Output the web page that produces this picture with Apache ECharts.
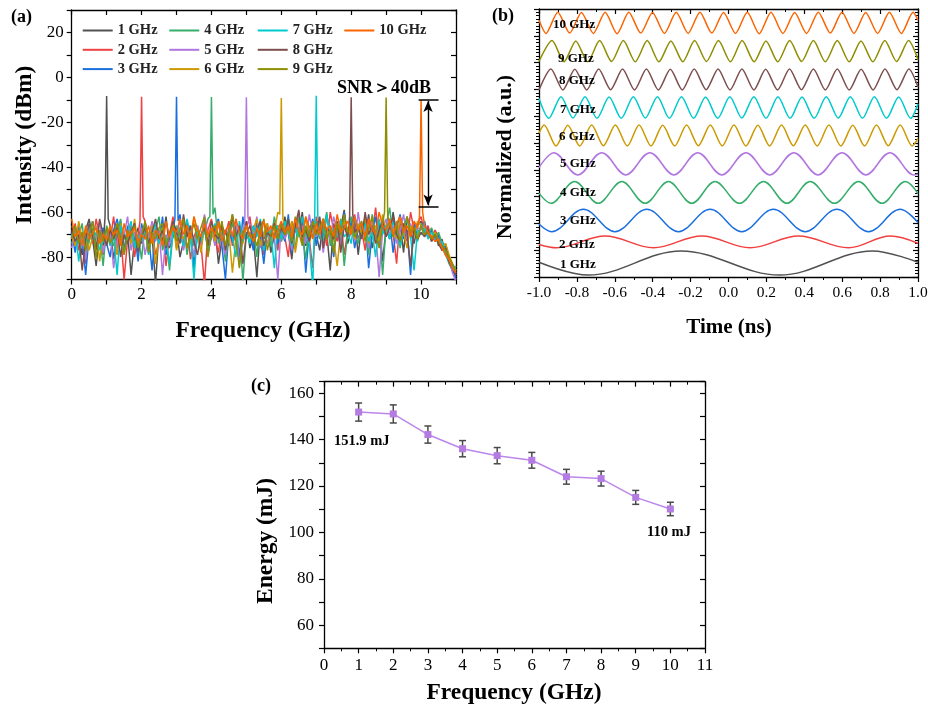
<!DOCTYPE html>
<html><head><meta charset="utf-8">
<script src="https://cdn.jsdelivr.net/npm/echarts@6/dist/echarts.min.js"></script>
<style>html,body{margin:0;padding:0;background:#fff}#c{width:928px;height:706px}</style>
</head><body><div id="c"></div><script>
const FONT = '"Liberation Serif","Times New Roman",serif';

// ---------- Panel (a): spectra ----------
const seriesNames = ['1 GHz','2 GHz','3 GHz','4 GHz','5 GHz','6 GHz','7 GHz','8 GHz','9 GHz','10 GHz'];
const colors = ['#515151','#F14040','#1A6FDF','#37AD6B','#B177DE','#CC9900','#00CBCC','#7D4E4E','#8E8E00','#FB6501'];
const freqGrid = [0,0.1,0.2,0.3,0.4,0.5,0.6,0.7,0.8,0.9,1.0,1.1,1.2,1.3,1.4,1.5,1.6,1.7,1.8,1.9,2.0,2.1,2.2,2.3,2.4,2.5,2.6,2.7,2.8,2.9,3.0,3.1,3.2,3.3,3.4,3.5,3.6,3.7,3.8,3.9,4.0,4.1,4.2,4.3,4.4,4.5,4.6,4.7,4.8,4.9,5.0,5.1,5.2,5.3,5.4,5.5,5.6,5.7,5.8,5.9,6.0,6.1,6.2,6.3,6.4,6.5,6.6,6.7,6.8,6.9,7.0,7.1,7.2,7.3,7.4,7.5,7.6,7.7,7.8,7.9,8.0,8.1,8.2,8.3,8.4,8.5,8.6,8.7,8.8,8.9,9.0,9.1,9.2,9.3,9.4,9.5,9.6,9.7,9.8,9.9,10.0,10.1,10.2,10.3,10.4,10.5,10.6,10.7,10.8,10.9,11.0];
const noise1 = [-66,-74,-70,-79,-68,-63,-72,-84,-69,-75, -70,-66,-81,-71,-64,-77,-69,-88,-72,-67, -74,-65,-78,-70,-92,-68,-73,-62,-76,-71, -67,-80,-73,-65,-71,-85,-69,-74,-63,-78, -70,-66,-83,-72,-68,-75,-61,-73,-79,-69, -64,-76,-71,-89,-67,-72,-65,-78,-70,-66, -73,-62,-69,-81,-66,-71,-60,-75,-68,-64, -70,-77,-63,-69,-86,-65,-72,-67,-59,-74, -68,-63,-79,-66,-71,-61,-76,-69,-64,-82, -67,-72,-60,-70,-65,-78,-62,-69,-74,-66, -64,-70,-67,-73,-69,-75,-72,-79,-82,-86, -89];
const noise2 = [-72,-65,-77,-70,-83,-68,-74,-63,-71,-79, -67,-73,-62,-76,-69,-90,-72,-66,-80,-70, -75,-64,-71,-68,-79,-73,-66,-84,-70,-62, -76,-69,-73,-65,-81,-71,-67,-74,-92,-68, -63,-72,-78,-66,-70,-64,-75,-69,-82,-71, -67,-62,-74,-70,-66,-79,-68,-72,-63,-77, -65,-71,-80,-64,-69,-61,-74,-67,-72,-85, -62,-70,-66,-75,-60,-68,-73,-64,-79,-69, -66,-61,-72,-68,-77,-63,-70,-58,-74,-67, -71,-64,-69,-83,-62,-67,-73,-60,-68,-65, -62,-69,-66,-72,-68,-71,-76,-74,-80,-84, -88];
const noise3 = [-69,-78,-66,-72,-88,-70,-64,-75,-71,-67, -74,-80,-68,-63,-71,-77,-66,-73,-69,-82, -65,-72,-70,-86,-67,-74,-62,-79,-71,-68, -73,-61,-76,-70,-66,-84,-69,-72,-64,-78, -71,-67,-63,-75,-90,-68,-73,-66,-80,-62, -72,-69,-77,-64,-71,-83,-67,-70,-65,-74, -68,-73,-61,-78,-66,-70,-64,-87,-69,-63, -75,-66,-71,-62,-68,-80,-65,-73,-60,-70, -64,-76,-67,-71,-63,-85,-69,-62,-74,-66, -70,-63,-78,-67,-61,-72,-68,-88,-65,-69, -67,-64,-71,-68,-73,-70,-77,-75,-81,-85, -90];
const noise4 = [-74,-68,-71,-65,-80,-73,-67,-76,-70,-84, -66,-71,-75,-69,-63,-78,-72,-67,-74,-70, -81,-65,-70,-73,-68,-62,-77,-71,-86,-69, -72,-67,-64,-79,-70,-75,-66,-73,-69,-63, -70,-58,-74,-68,-82,-71,-65,-72,-67,-91, -69,-73,-66,-80,-64,-71,-68,-75,-62,-70, -73,-67,-63,-70,-76,-62,-69,-81,-66,-71, -64,-72,-68,-60,-75,-67,-71,-63,-84,-69, -62,-70,-74,-65,-68,-79,-61,-72,-67,-88, -66,-58,-71,-64,-76,-68,-63,-70,-67,-73, -65,-68,-70,-67,-72,-69,-74,-78,-83,-86, -84];
const noise5 = [-76,-67,-73,-69,-81,-66,-72,-70,-64,-78, -71,-68,-85,-73,-66,-70,-62,-77,-69,-74, -67,-79,-71,-64,-73,-68,-88,-70,-75,-66, -72,-63,-77,-69,-71,-80,-66,-74,-61,-70, -68,-75,-65,-72,-79,-67,-70,-63,-84,-71, -73,-66,-70,-62,-76,-69,-74,-67,-71,-90, -65,-72,-68,-77,-63,-70,-66,-74,-61,-69, -71,-64,-78,-67,-72,-62,-69,-75,-65,-70, -67,-73,-60,-71,-66,-76,-64,-69,-89,-68, -63,-70,-66,-74,-68,-61,-72,-65,-70,-67, -68,-66,-71,-69,-73,-72,-75,-79,-81,-87, -91];
const noise6 = [-70,-75,-64,-72,-68,-77,-71,-66,-82,-69, -73,-67,-71,-79,-65,-72,-69,-74,-63,-76, -70,-68,-75,-66,-83,-71,-67,-73,-70,-64, -77,-69,-72,-67,-74,-62,-70,-78,-66,-71, -68,-73,-65,-70,-76,-69,-87,-72,-67,-74, -66,-71,-68,-63,-75,-70,-65,-73,-69,-60, -72,-66,-70,-64,-78,-68,-71,-62,-74,-67, -69,-63,-75,-70,-66,-72,-84,-68,-64,-71, -67,-72,-65,-70,-62,-74,-68,-66,-73,-61, -70,-65,-68,-72,-63,-69,-76,-66,-71,-64, -66,-70,-68,-71,-69,-73,-76,-74,-79,-83, -86];
const noise7 = [-71,-67,-82,-70,-74,-65,-72,-69,-77,-73, -68,-75,-70,-88,-66,-72,-69,-64,-76,-71, -73,-67,-79,-70,-65,-74,-68,-72,-83,-69, -66,-71,-75,-63,-70,-90,-68,-73,-67,-77, -70,-65,-72,-69,-76,-67,-71,-80,-64,-73, -69,-74,-66,-71,-63,-77,-70,-68,-85,-66, -72,-64,-69,-75,-67,-71,-62,-70,-74,-93, -68,-66,-73,-61,-70,-76,-67,-64,-71,-69, -74,-62,-68,-71,-65,-73,-69,-80,-63,-70, -66,-72,-64,-69,-75,-67,-62,-71,-86,-68, -70,-67,-72,-69,-71,-74,-73,-78,-82,-84, -87];
const noise8 = [-68,-73,-70,-86,-72,-65,-71,-77,-63,-70, -75,-68,-72,-66,-80,-70,-74,-69,-65,-78, -71,-67,-74,-69,-63,-72,-68,-76,-70,-64, -69,-74,-61,-71,-66,-73,-79,-70,-67,-75, -64,-70,-72,-65,-77,-68,-62,-71,-66,-83, -70,-66,-73,-68,-64,-75,-69,-71,-65,-72, -67,-70,-63,-74,-66,-59,-71,-68,-73,-65, -70,-62,-76,-67,-69,-72,-64,-78,-66,-71, -63,-69,-67,-72,-60,-70,-66,-74,-68,-64, -71,-67,-62,-70,-73,-65,-69,-84,-67,-72, -69,-71,-68,-73,-70,-74,-77,-76,-82,-85, -88];
const noise9 = [-72,-66,-74,-69,-77,-70,-64,-81,-68,-73, -67,-74,-70,-65,-72,-79,-68,-71,-66,-76, -70,-64,-78,-69,-72,-67,-65,-75,-70,-66, -73,-68,-63,-76,-70,-65,-72,-67,-62,-80, -69,-66,-71,-64,-75,-68,-61,-72,-85,-69, -66,-71,-70,-75,-68,-63,-77,-70,-66,-72, -65,-70,-67,-73,-62,-69,-75,-66,-71,-64, -70,-67,-63,-72,-68,-78,-65,-70,-61,-69, -66,-71,-68,-64,-73,-67,-62,-70,-76,-65, -69,-64,-71,-66,-73,-68,-62,-70,-67,-72, -66,-70,-69,-72,-70,-73,-75,-77,-80,-83, -86];
const noise10 = [-63,-71,-68,-75,-66,-72,-69,-67,-74,-70, -72,-66,-70,-68,-75,-65,-71,-69,-67,-73, -70,-72,-66,-74,-68,-70,-75,-64,-71,-67, -69,-63,-70,-66,-72,-62,-68,-71,-65,-70, -67,-70,-64,-73,-68,-66,-71,-63,-69,-72, -66,-70,-73,-67,-71,-64,-69,-66,-72,-68, -64,-69,-66,-71,-63,-68,-70,-62,-67,-72, -65,-70,-63,-68,-66,-71,-61,-69,-67,-64, -70,-62,-68,-65,-71,-63,-67,-70,-60,-66, -68,-63,-70,-65,-62,-69,-66,-71,-64,-67, -60,-66,-69,-71,-73,-72,-76,-79,-81,-85, -87];
const noiseAll = [noise1,noise2,noise3,noise4,noise5,noise6,noise7,noise8,noise9,noise10];
const peakFreq = [1,2,3,4,5,6,7,8,9,10];
const peakLevel = [-8.3,-8.6,-8.6,-8.7,-8.9,-9.2,-8.2,-8.9,-9.0,-10.2];
const shoulderL = [-62,-64,-63,-62,-64,-61,-63,-62,-60,-62];
const shoulderR = [-63,-62,-64,-61,-62,-63,-62,-61,-62,-60];
const snrTop = -10, snrBottom = -57.5, snrX = [9.93, 10.5], arrowX = 10.2;

// ---------- Panel (b): waveforms (extrema) ----------
const w10 = [[-1,9.58],[-0.963,9.09],[-0.901,9.88],[-0.838,9.10],[-0.776,9.87],[-0.713,9.09],[-0.651,9.88],[-0.588,9.08],[-0.526,9.88],[-0.463,9.10],[-0.401,9.87],[-0.338,9.09],[-0.276,9.88],[-0.213,9.09],[-0.151,9.88],[-0.088,9.10],[-0.026,9.87],[0.037,9.09],[0.099,9.88],[0.162,9.08],[0.224,9.88],[0.287,9.09],[0.349,9.87],[0.412,9.09],[0.474,9.88],[0.537,9.10],[0.599,9.88],[0.662,9.09],[0.724,9.87],[0.787,9.09],[0.849,9.88],[0.912,9.09],[0.974,9.88],[1,9.58]];
const w9 = [[-1,8.04],[-0.931,8.82],[-0.868,8.03],[-0.806,8.81],[-0.743,8.03],[-0.680,8.82],[-0.617,8.04],[-0.555,8.82],[-0.492,8.03],[-0.429,8.82],[-0.367,8.03],[-0.304,8.81],[-0.241,8.03],[-0.179,8.82],[-0.116,8.04],[-0.053,8.82],[0.010,8.03],[0.072,8.82],[0.135,8.03],[0.198,8.81],[0.260,8.03],[0.323,8.82],[0.386,8.04],[0.448,8.82],[0.511,8.03],[0.574,8.82],[0.637,8.03],[0.699,8.81],[0.762,8.03],[0.825,8.82],[0.887,8.04],[0.950,8.82],[1,8.11]];
const w8 = [[-1,6.98],[-0.937,7.76],[-0.874,6.98],[-0.811,7.75],[-0.748,6.98],[-0.685,7.76],[-0.622,6.99],[-0.559,7.76],[-0.496,6.98],[-0.433,7.76],[-0.370,6.98],[-0.307,7.75],[-0.244,6.98],[-0.181,7.76],[-0.118,6.99],[-0.055,7.76],[0.008,6.98],[0.071,7.76],[0.134,6.98],[0.196,7.75],[0.259,6.98],[0.322,7.76],[0.385,6.99],[0.448,7.76],[0.511,6.98],[0.574,7.76],[0.637,6.98],[0.700,7.75],[0.763,6.98],[0.826,7.76],[0.889,6.99],[0.952,7.76],[1,7.09]];
const w7 = [[-1,6.66],[-0.948,5.92],[-0.884,6.73],[-0.821,5.93],[-0.757,6.73],[-0.694,5.92],[-0.630,6.72],[-0.566,5.92],[-0.502,6.73],[-0.439,5.93],[-0.375,6.73],[-0.312,5.92],[-0.248,6.73],[-0.184,5.92],[-0.121,6.72],[-0.057,5.92],[0.007,6.73],[0.070,5.93],[0.134,6.73],[0.198,5.92],[0.261,6.73],[0.325,5.92],[0.388,6.72],[0.452,5.92],[0.516,6.73],[0.579,5.93],[0.643,6.73],[0.707,5.92],[0.770,6.73],[0.834,5.92],[0.898,6.72],[0.961,5.92],[1,6.46]];
const w6 = [[-1,5.37],[-0.973,5.67],[-0.910,4.89],[-0.848,5.66],[-0.785,4.89],[-0.722,5.67],[-0.660,4.90],[-0.597,5.67],[-0.534,4.89],[-0.472,5.67],[-0.409,4.89],[-0.347,5.66],[-0.284,4.89],[-0.221,5.67],[-0.159,4.90],[-0.096,5.67],[-0.033,4.89],[0.029,5.67],[0.092,4.89],[0.155,5.66],[0.217,4.89],[0.280,5.67],[0.342,4.90],[0.405,5.67],[0.468,4.89],[0.530,5.67],[0.593,4.89],[0.656,5.66],[0.718,4.89],[0.781,5.67],[0.843,4.90],[0.906,5.67],[0.969,4.89],[1,5.16]];
const w5 = [[-1,4.08],[-0.922,4.64],[-0.795,3.81],[-0.669,4.64],[-0.542,3.81],[-0.415,4.64],[-0.288,3.81],[-0.162,4.64],[-0.035,3.81],[0.092,4.64],[0.218,3.81],[0.345,4.64],[0.472,3.81],[0.599,4.64],[0.725,3.81],[0.852,4.64],[0.979,3.81],[1,3.83]];
const w4 = [[-1,3.13],[-0.937,2.75],[-0.812,3.56],[-0.688,2.75],[-0.563,3.56],[-0.440,2.75],[-0.317,3.56],[-0.194,2.75],[-0.071,3.56],[0.058,2.75],[0.185,3.56],[0.308,2.75],[0.431,3.56],[0.559,2.75],[0.686,3.56],[0.810,2.75],[0.933,3.56],[1,3.11]];
const w3 = [[-1,1.98],[-0.933,1.69],[-0.766,2.53],[-0.599,1.69],[-0.431,2.53],[-0.264,1.69],[-0.097,2.53],[0.070,1.69],[0.237,2.53],[0.405,1.69],[0.572,2.53],[0.739,1.69],[0.907,2.53],[1,2.03]];
const w2 = [[-1,1.215],[-0.907,1.09],[-0.651,1.53],[-0.396,1.09],[-0.141,1.53],[0.114,1.09],[0.369,1.53],[0.633,1.09],[0.854,1.53],[1,1.26]];
const w1 = [[-1,0.55],[-0.74,0.07],[-0.25,0.97],[0.27,0.07],[0.76,0.97],[1,0.55]];
const waves = [w1,w2,w3,w4,w5,w6,w7,w8,w9,w10];
const waveSmooth = [0.36,0.36,0.36,0.36,0.36,0.28,0.28,0.25,0.25,0.25];

// ---------- Panel (c): energy ----------
const freqC = [1,2,3,4,5,6,7,8,9,10];
const energy = [151.9,151.1,142.2,136.1,133.1,131.1,124.0,123.2,115.1,110.1];
const energyErr = [3.9,3.9,3.7,3.5,3.5,3.4,3.2,3.2,3.0,2.9];

// ---------- build ----------
function buildSpectrum(k){
  const f = peakFreq[k], pts = [];
  for (let i = 0; i < freqGrid.length; i++){
    const x = freqGrid[i];
    if (Math.abs(x - f) < 1e-9){
      pts.push([f - 0.045, shoulderL[k]]);
      pts.push([f, peakLevel[k]]);
      pts.push([f + 0.045, shoulderR[k]]);
    } else pts.push([x, noiseAll[k][i]]);
  }
  return pts;
}
const AX = {color:'#000', width:1.3};
function xAx(grid, pos, min, max, interval, labelOpt, minorSplit){
  const inside = pos === 'top';
  return {type:'value', gridIndex:grid, position:pos, min:min, max:max, interval:interval,
    axisLine:{show:true, onZero:false, lineStyle:AX},
    axisTick:{show:true, inside:inside, length:5, lineStyle:{color:'#000', width:1.2}},
    minorTick:{show:!!minorSplit, splitNumber:minorSplit||2, length:3, lineStyle:{color:'#000', width:1}},
    splitLine:{show:false}, minorSplitLine:{show:false},
    axisLabel: inside ? {show:false} : Object.assign({show:true, color:'#000', fontFamily:FONT, fontSize:17}, labelOpt)};
}
function yAx(grid, pos, min, max, interval, labelOpt, minorSplit){
  const inside = pos === 'right';
  return {type:'value', gridIndex:grid, position:pos, min:min, max:max, interval:interval,
    axisLine:{show:true, onZero:false, lineStyle:AX},
    axisTick:{show:true, inside:inside, length:5, lineStyle:{color:'#000', width:1.2}},
    minorTick:{show:!!minorSplit, splitNumber:minorSplit||2, length:3, lineStyle:{color:'#000', width:1}},
    splitLine:{show:false}, minorSplitLine:{show:false},
    axisLabel: inside ? {show:false} : Object.assign({show:true, color:'#000', fontFamily:FONT, fontSize:17}, labelOpt)};
}

const series = [];
for (let k = 0; k < 10; k++){
  series.push({name:seriesNames[k], type:'line', xAxisIndex:0, yAxisIndex:0, data:buildSpectrum(k),
    symbol:'none', color:colors[k], lineStyle:{width:1.5, color:colors[k]}, clip:true});
}
series.push({type:'line', xAxisIndex:0, yAxisIndex:0, data:[[arrowX, snrTop]], symbol:'none', lineStyle:{opacity:0},
  markLine:{silent:true, symbol:['none','none'], label:{show:false}, lineStyle:{color:'#000', width:1.5, type:'solid'},
    data:[[{coord:[snrX[0], snrTop]},{coord:[snrX[1], snrTop]}],[{coord:[snrX[0], snrBottom]},{coord:[snrX[1], snrBottom]}]]}, z:5});
series.push({type:'line', xAxisIndex:0, yAxisIndex:0, data:[[arrowX, snrTop]], symbol:'none', lineStyle:{opacity:0},
  markLine:{silent:true, symbol:['arrow','arrow'], symbolSize:[7,11], label:{show:false}, lineStyle:{color:'#000', width:1.4, type:'solid'},
    data:[[{coord:[arrowX, snrTop - 0.5]},{coord:[arrowX, snrBottom + 0.5]}]]}, z:5});
for (let k = 0; k < 10; k++){
  series.push({type:'line', xAxisIndex:2, yAxisIndex:2, data:waves[k], symbol:'none', smooth:waveSmooth[k],
    lineStyle:{width:1.5, color:colors[k]}, color:colors[k]});
}
series.push({type:'custom', xAxisIndex:4, yAxisIndex:4, z:2,
  data: freqC.map((f,i)=>[f, energy[i], energyErr[i]]),
  encode:{x:0, y:1},
  renderItem:function(params, api){
    const x = api.value(0), y = api.value(1), e = api.value(2);
    const t = api.coord([x, y + e]), b = api.coord([x, y - e]);
    const w = 3.5, st = {stroke:'#4a4a4a', lineWidth:1.5};
    return {type:'group', children:[
      {type:'line', shape:{x1:t[0], y1:t[1], x2:b[0], y2:b[1]}, style:st},
      {type:'line', shape:{x1:t[0]-w, y1:t[1], x2:t[0]+w, y2:t[1]}, style:st},
      {type:'line', shape:{x1:b[0]-w, y1:b[1], x2:b[0]+w, y2:b[1]}, style:st}]};
  }});
series.push({type:'line', xAxisIndex:4, yAxisIndex:4, z:3, data: freqC.map((f,i)=>[f, energy[i]]),
  symbol:'rect', symbolSize:7, showSymbol:true, color:'#B47BE2',
  itemStyle:{color:'#B47BE2'}, lineStyle:{color:'#BC86EA', width:1.5}});

const legendCols = [['1 GHz','2 GHz','3 GHz'],['4 GHz','5 GHz','6 GHz'],['7 GHz','8 GHz','9 GHz'],['10 GHz']];
const legendLeft = [81.7, 168.3, 256.7, 343.3];
const legends = legendCols.map((names, i) => ({data:names, left:legendLeft[i], top:23, orient:'vertical',
  padding:0, itemWidth:30, itemHeight:14, itemGap:4.3, selectedMode:false,
  lineStyle:{width:2}, itemStyle:{opacity:0, borderWidth:0},
  textStyle:{fontFamily:FONT, fontWeight:'bold', fontSize:14.5, color:'#222', lineHeight:14}}));

function txt(x, y, s, size, opts){
  opts = opts || {};
  return {type:'text', x:x, y:y, rotation:opts.rot||0, z:100, silent:true,
    style:{text:s, font:(opts.normal?'':'bold ')+size+'px '+FONT, fill:opts.fill||'#000',
      textAlign:opts.align||'center', textVerticalAlign:'middle', align:opts.align||'center', verticalAlign:'middle'}};
}
const waveLabelX = [560,559,560,560,560,559,560,559,558,553];
const waveLabelY = [265,245,221,192.7,163.3,136.7,109.7,80.3,59,25];
const graphics = [
  txt(21.5, 17, '(a)', 18), txt(503, 16, '(b)', 18), txt(261, 386, '(c)', 18),
  txt(263, 331, 'Frequency (GHz)', 23.5),
  txt(25, 145, 'Intensity (dBm)', 23.5, {rot:Math.PI/2}),
  txt(729, 328, 'Time (ns)', 21),
  txt(505, 157, 'Normalized (a.u.)', 22, {rot:Math.PI/2}),
  txt(514, 693, 'Frequency (GHz)', 23.5),
  txt(266, 541, 'Energy (mJ)', 23.5, {rot:Math.PI/2}),
  txt(384, 88, 'SNR＞40dB', 18),
  txt(361.7, 441.7, '151.9 mJ', 14.5),
  txt(669, 532, '110 mJ', 14.5)
];
for (let k = 0; k < 10; k++) graphics.push(txt(waveLabelX[k], waveLabelY[k], seriesNames[k], 13, {align:'left'}));

const chart = echarts.init(document.getElementById('c'), null, {renderer:'canvas'});
chart.setOption({
  animation:false, backgroundColor:'#fff',
  grid:[
    {left:71.7, right:472, top:10, bottom:426.5, containLabel:false, outerBoundsMode:'none'},
    {left:539, right:10, top:9, bottom:429, containLabel:false, outerBoundsMode:'none'},
    {left:324, right:223, top:381.7, bottom:57.7, containLabel:false, outerBoundsMode:'none'}
  ],
  xAxis:[
    xAx(0,'bottom',0,11,1,{margin:7, formatter:v => (v % 2 === 0 && v <= 10) ? String(v) : ''}),
    xAx(0,'top',0,11,1,{}),
    xAx(1,'bottom',-1,1,0.2,{margin:8, fontSize:15.5, formatter:v => (Math.round(v*10)/10).toFixed(1)}, 2),
    xAx(1,'top',-1,1,0.2,{}, 2),
    xAx(2,'bottom',0,11,1,{margin:9}, 2),
    xAx(2,'top',0,11,1,{}, 2)
  ],
  yAxis:[
    yAx(0,'left',-90,30,10,{margin:8, formatter:v => (v % 20 === 0 && v > -90 && v < 30) ? String(v) : ''}),
    yAx(0,'right',-90,30,10,{}),
    yAx(1,'left',0,10,1,{show:false}, 8),
    yAx(1,'right',0,10,1,{}, 8),
    yAx(2,'left',50,165,10,{margin:10, formatter:v => (v % 20 === 0 && v >= 60 && v <= 160) ? String(v) : ''}),
    yAx(2,'right',50,165,10,{})
  ],
  legend:legends,
  series:series,
  graphic:graphics
});
</script></body></html>
